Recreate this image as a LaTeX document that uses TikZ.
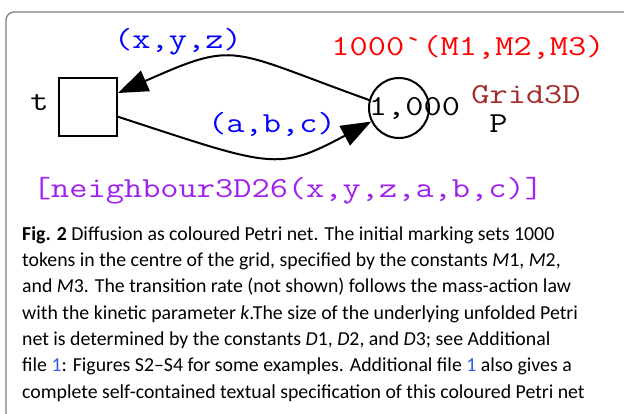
\documentclass[tikz,border=0pt]{standalone}
\usepackage{fontspec}
\usepackage{graphicx}
\newfontfamily\capfont{Carlito}
\definecolor{petriblue}{HTML}{0000FF}
\definecolor{petrired}{HTML}{FF0000}
\definecolor{petribrown}{HTML}{A52A2A}
\definecolor{petripurple}{HTML}{A020F0}
\definecolor{framegray}{HTML}{7F7F7F}
\definecolor{linkblue}{HTML}{2E5CE6}
\usetikzlibrary{arrows.meta, positioning}
\newcommand{\wide}[1]{\scalebox{1.22}[1]{#1}}

\begin{document}
\begin{tikzpicture}[
        x=1pt, y=-1pt,
        trans/.style={
            rectangle,
            draw=black,
            line width=2pt,
            fill=white,
            minimum size=58pt,
            inner sep=0pt
        },
        place/.style={
            circle,
            draw=black,
            line width=2pt,
            minimum size=60pt,
            inner sep=0pt
        },
        lbl/.style={
            font=\ttfamily\fontsize{29}{29}\selectfont,
            inner sep=0pt,
            anchor=base
        },
        arc/.style={
            line width=2pt,
            -{Triangle[length=30pt,width=22pt]}
        }
    ]
    \useasboundingbox (0,0) rectangle (624,413);

    % figure frame
    \draw[framegray, line width=1.3pt, rounded corners=8pt] (6,440) |- (660,12);

    % net
    \node[trans] (t) at (88,107) {};
    \node[place] (p) at (399,108) {};
    \draw[arc] (p.165) .. controls (227,49) and (238,40) .. (t.25);
    \draw[arc] (t.-18) .. controls (272,167) and (277,172) .. (p.206);

    % inscriptions
    \node[lbl] (t_name) at (39.5,110) {\wide{t}};
    \node[lbl] (p_mark) at (414.5,115) {\wide{1,000}};
    \node[lbl, text=petribrown] (p_col) at (526,103) {\wide{Grid3D}};
    \node[lbl] (p_name) at (498.5,132) {\wide{P}};
    \node[lbl, text=petrired] (p_init) at (468,55) {\wide{1000\textasciigrave(M1,M2,M3)}};
    \node[lbl, text=petriblue] (a_in) at (178,48) {\wide{(x,y,z)}};
    \node[lbl, text=petriblue] (a_out) at (272,132) {\wide{(a,b,c)}};
    \node[lbl, text=petripurple] (t_guard) at (288,197) {\wide{[neighbour3D26(x,y,z,a,b,c)]}};

    % caption (anchored at the baseline of its last line)
    \node[anchor=base west, align=left, inner sep=0pt,
          font=\capfont\fontsize{19.8}{26.3}\selectfont] (cap) at (22,398) {%
        \textbf{Fig. 2} Diffusion as coloured Petri net. The initial marking sets 1000\\
        tokens in the centre of the grid, specified by the constants \textit{M}1, \textit{M}2,\\
        and \textit{M}3. The transition rate (not shown) follows the mass-action law\\
        with the kinetic parameter \textit{k}.The size of the underlying unfolded Petri\\
        net is determined by the constants \textit{D}1, \textit{D}2, and \textit{D}3; see Additional\\
        file \textcolor{linkblue}{1}: Figures S2–S4 for some examples. Additional file \textcolor{linkblue}{1} also gives a\\
        complete self-contained textual specification of this coloured Petri net};
\end{tikzpicture}
\end{document}
